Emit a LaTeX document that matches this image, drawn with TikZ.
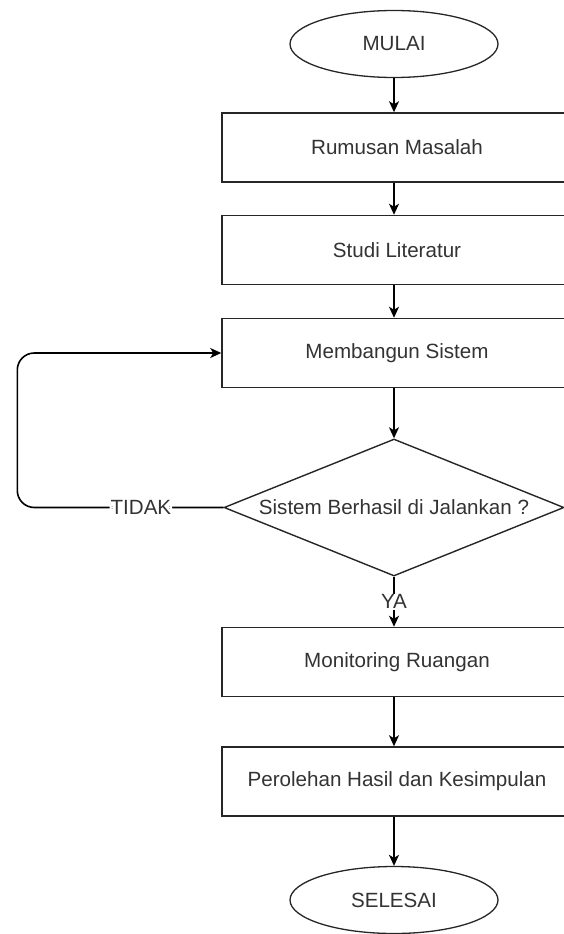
\documentclass[tikz,border=0pt]{standalone}
\usepackage{fontspec}
\setmainfont{Liberation Sans}
\usetikzlibrary{shapes.geometric,arrows.meta}
\begin{document}
\begin{tikzpicture}[x=1pt,y=-1pt,
  every node/.style={font=\fontsize{20.6}{24}\selectfont, text=black!80},
  process/.style={draw=black!85, line width=1.5pt, rectangle, minimum width=350pt, minimum height=69pt, inner sep=0pt},
  terminal/.style={draw=black!85, line width=1.3pt, ellipse, minimum width=208pt, minimum height=67pt, inner sep=0pt},
  decision/.style={draw=black!85, line width=1.4pt, diamond, minimum width=340pt, minimum height=137pt, inner sep=0pt},
  flow/.style={draw=black, line width=1.6pt, -{Stealth[length=11pt,width=10pt,inset=3pt]}},
  tag/.style={fill=white, inner sep=1pt}
]
\useasboundingbox (0,0) rectangle (564,934);
\clip (0,0) rectangle (564,934);

\node[terminal] (start) at (394,44) {MULAI};
\node[process] (b1) at (397,147.5) {Rumusan Masalah};
\node[process] (b2) at (397,250) {Studi Literatur};
\node[process] (b3) at (397,353) {Membangun Sistem};
\node[decision, label={center:Sistem Berhasil di Jalankan ?}] (dec) at (394,507.5) {};
\node[process] (b4) at (397,662) {Monitoring Ruangan};
\node[process] (b5) at (397,781.5) {Perolehan Hasil dan Kesimpulan};
\node[terminal] (stop) at (394,900) {SELESAI};

\draw[flow] (start.south) -- (start.south |- b1.north);
\draw[flow] (b1.south -| start.south) -- (start.south |- b2.north);
\draw[flow] (b2.south -| start.south) -- (start.south |- b3.north);
\draw[flow] (b3.south -| start.south) -- (dec.north);
\draw[flow] (dec.south) -- node[tag]{YA} (dec.south |- b4.north);
\draw[flow] (b4.south -| start.south) -- (start.south |- b5.north);
\draw[flow] (b5.south -| start.south) -- (stop.north);
\draw[flow, rounded corners=17pt] (dec.west) -- node[tag, pos=0.4]{TIDAK} ++(-206,0) |- (b3.west);
\end{tikzpicture}
\end{document}
